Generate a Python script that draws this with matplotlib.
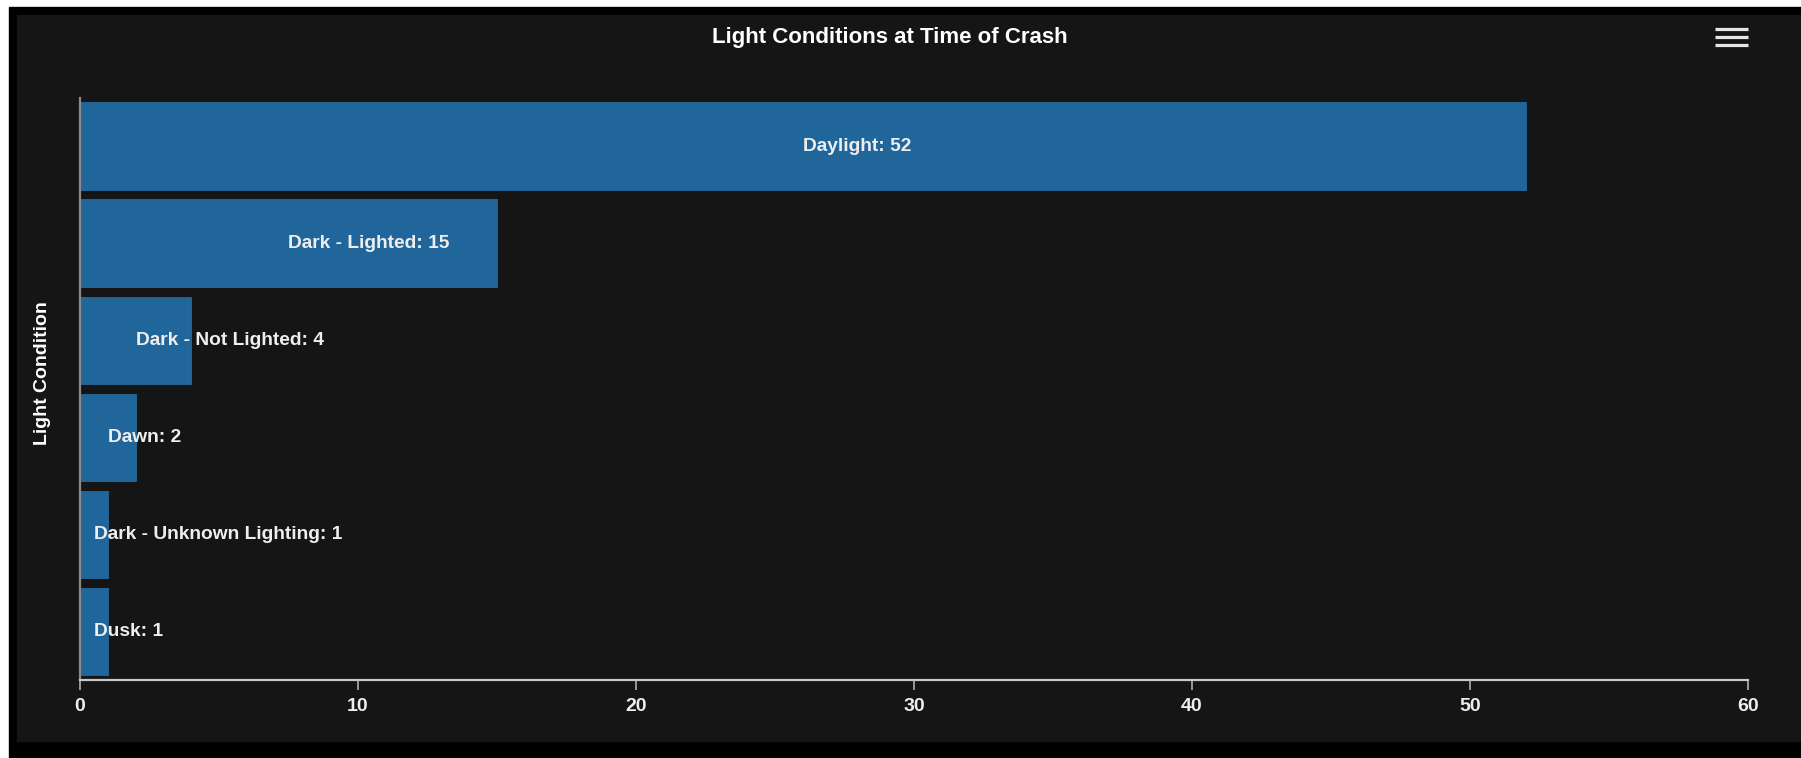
# ============================================
# condiciones_luz.py
# barras horizontales de choques por luz
# ============================================

import matplotlib.pyplot as plt
from matplotlib.patches import Rectangle
from matplotlib.lines import Line2D

# ============================================
# DATOS
# ============================================

condiciones = [
    "Daylight",
    "Dark - Lighted",
    "Dark - Not Lighted",
    "Dawn",
    "Dark - Unknown Lighting",
    "Dusk",
]

choques = [52, 15, 4, 2, 1, 1]

ticks_x = [0, 10, 20, 30, 40, 50, 60]

# ============================================
# ESTILO
# ============================================

W, H = 1801, 758
DPI = 100

fondo = "#151515"
azul = "#21669b"
texto = "#eeeeee"

plt.rcParams["font.family"] = ["Liberation Sans", "DejaVu Sans"]
plt.rcParams["font.weight"] = "bold"

fig = plt.figure(figsize=(W / DPI, H / DPI), dpi=DPI)
fig.patch.set_facecolor("white")

# marco negro y panel gris
fig.patches.append(
    Rectangle(
        (9 / W, 0), 1 - 9 / W, (H - 7) / H,
        transform=fig.transFigure, color="black", zorder=-2
    )
)
fig.patches.append(
    Rectangle(
        (17 / W, (H - 741) / H), 1 - 17 / W, (741 - 15) / H,
        transform=fig.transFigure, color=fondo, zorder=-1
    )
)

# ============================================
# EJES
# ============================================

x0, x1 = 80, 1748
y_top, y_bot = 97.5, 680

ax = fig.add_axes([
    x0 / W,
    (H - y_bot) / H,
    (x1 - x0) / W,
    (y_bot - y_top) / H,
])
ax.set_facecolor(fondo)

pos = list(range(len(condiciones)))

ax.barh(
    pos,
    choques,
    height=0.9,
    color=azul,
    edgecolor="#236a9f",
    linewidth=0.6,
    zorder=2
)

ax.set_xlim(ticks_x[0], ticks_x[-1])
ax.set_ylim(len(condiciones) - 0.5, -0.5)

# etiquetas de cada barra
for i, (nombre, v) in enumerate(zip(condiciones, choques)):
    ax.text(
        v / 2, i,
        f"{nombre}: {v}",
        ha="left", va="center",
        color=texto, fontsize=13.8,
        fontweight="bold", zorder=3
    )

# ============================================
# EJE X / EJE Y
# ============================================

for s in ["top", "right"]:
    ax.spines[s].set_visible(False)

ax.spines["bottom"].set_color("#c8c8c8")
ax.spines["bottom"].set_linewidth(1.6)
ax.spines["left"].set_color("#8a8a8a")
ax.spines["left"].set_linewidth(1.6)

ax.set_xticks(ticks_x)
ax.set_xticklabels([str(t) for t in ticks_x])
ax.set_yticks([])

ax.tick_params(
    axis="x",
    colors="#9a9a9a",
    labelcolor=texto,
    length=7.5,
    width=1.4,
    pad=5.5,
    labelsize=14
)

for lab in ax.get_xticklabels():
    lab.set_fontweight("bold")

# ============================================
# TITULO Y ETIQUETA
# ============================================

fig.text(
    889.5 / W, 1 - 37 / H,
    "Light Conditions at Time of Crash",
    ha="center", va="center",
    color="white", fontsize=16,
    fontweight="bold"
)

fig.text(
    42.5 / W, 1 - 373.5 / H,
    "Light Condition",
    ha="center", va="center",
    rotation=90,
    color="white", fontsize=14,
    fontweight="bold"
)

# icono de menú
for yy in [28.5, 36.5, 44.5]:
    fig.lines.append(
        Line2D(
            [1715 / W, 1748 / W],
            [1 - yy / H, 1 - yy / H],
            transform=fig.transFigure,
            color="#e6e6e6",
            linewidth=2.3,
            solid_capstyle="butt"
        )
    )

plt.savefig("out.png", dpi=DPI, facecolor=fig.get_facecolor())
